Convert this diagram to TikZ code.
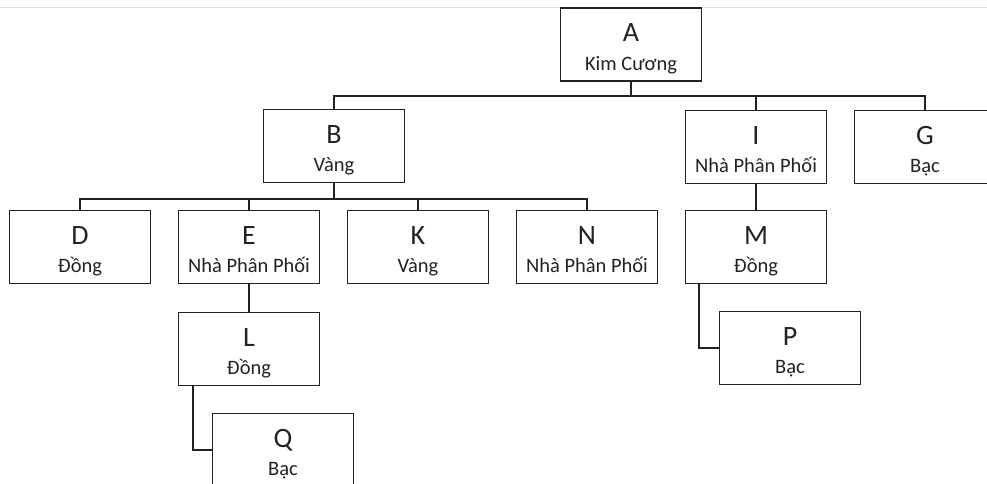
\documentclass[tikz,border=0pt]{standalone}
\usepackage{fontspec}
\setmainfont{Carlito}
\usetikzlibrary{positioning}
\definecolor{ink}{HTML}{222222}
\definecolor{rule}{HTML}{F0D2EA}
\newcommand{\sublbl}{\fontsize{20.5}{28.5}\selectfont}

\begin{document}
\begin{tikzpicture}[x=1pt, y=-1pt, node distance=26.5pt,
  main/.style = {draw=ink, line width=1.5pt, rectangle, minimum width=141pt, minimum height=73pt, inner sep=0pt, align=center, text=ink, font=\fontsize{28}{28.5}\selectfont, text height=53pt, text depth=2pt},
  link/.style = {draw=ink, line width=1.5pt}]
\useasboundingbox (0,0) rectangle (987,483);
\draw[rule, line width=1pt] (0,7) -- (987,7);
% second row
\node[main] (D) at (80,247) {D\\{\sublbl Đồng}};
\node[main] (E) [right=of D] {E\\{\sublbl Nhà Phân Phối}};
\node[main] (K) [right=of E] {K\\{\sublbl Vàng}};
\node[main] (N) [right=of K] {N\\{\sublbl Nhà Phân Phối}};
\node[main] (M) [right=of N] {M\\{\sublbl Đồng}};
% first row
\node[main] (I) [above=25.5pt of M] {I\\{\sublbl Nhà Phân Phối}};
\node[main] (G) [right=of I] {G\\{\sublbl Bạc}};
\node[main] (B) at (334,146) {B\\{\sublbl Vàng}};
\node[main] (A) at (631,44.5) {A\\{\sublbl Kim Cương}};
% lower levels
\node[main] (L) [below=27.5pt of E] {L\\{\sublbl Đồng}};
\node[main] (Q) [below=26.5pt of L, xshift=34pt] {Q\\{\sublbl Bạc}};
\node[main] (P) [below=26.5pt of M, xshift=34pt] {P\\{\sublbl Bạc}};
% links
\draw[link] (A.south) -- ++(0,14) -| (B.north);
\draw[link] (A.south) -- ++(0,14) -| (I.north);
\draw[link] (A.south) -- ++(0,14) -| (G.north);
\draw[link] (B.south) -- ++(0,15.5) -| (D.north);
\draw[link] (B.south) -- ++(0,15.5) -| (E.north);
\draw[link] (B.south) -- ++(0,15.5) -| (K.north);
\draw[link] (B.south) -- ++(0,15.5) -| (N.north);
\draw[link] (E.south) -- (L.north);
\draw[link] (I.south) -- (M.north);
\draw[link] ([xshift=15pt]L.south west) |- (Q.west);
\draw[link] ([xshift=14pt]M.south west) |- (P.west);
\end{tikzpicture}
\end{document}
